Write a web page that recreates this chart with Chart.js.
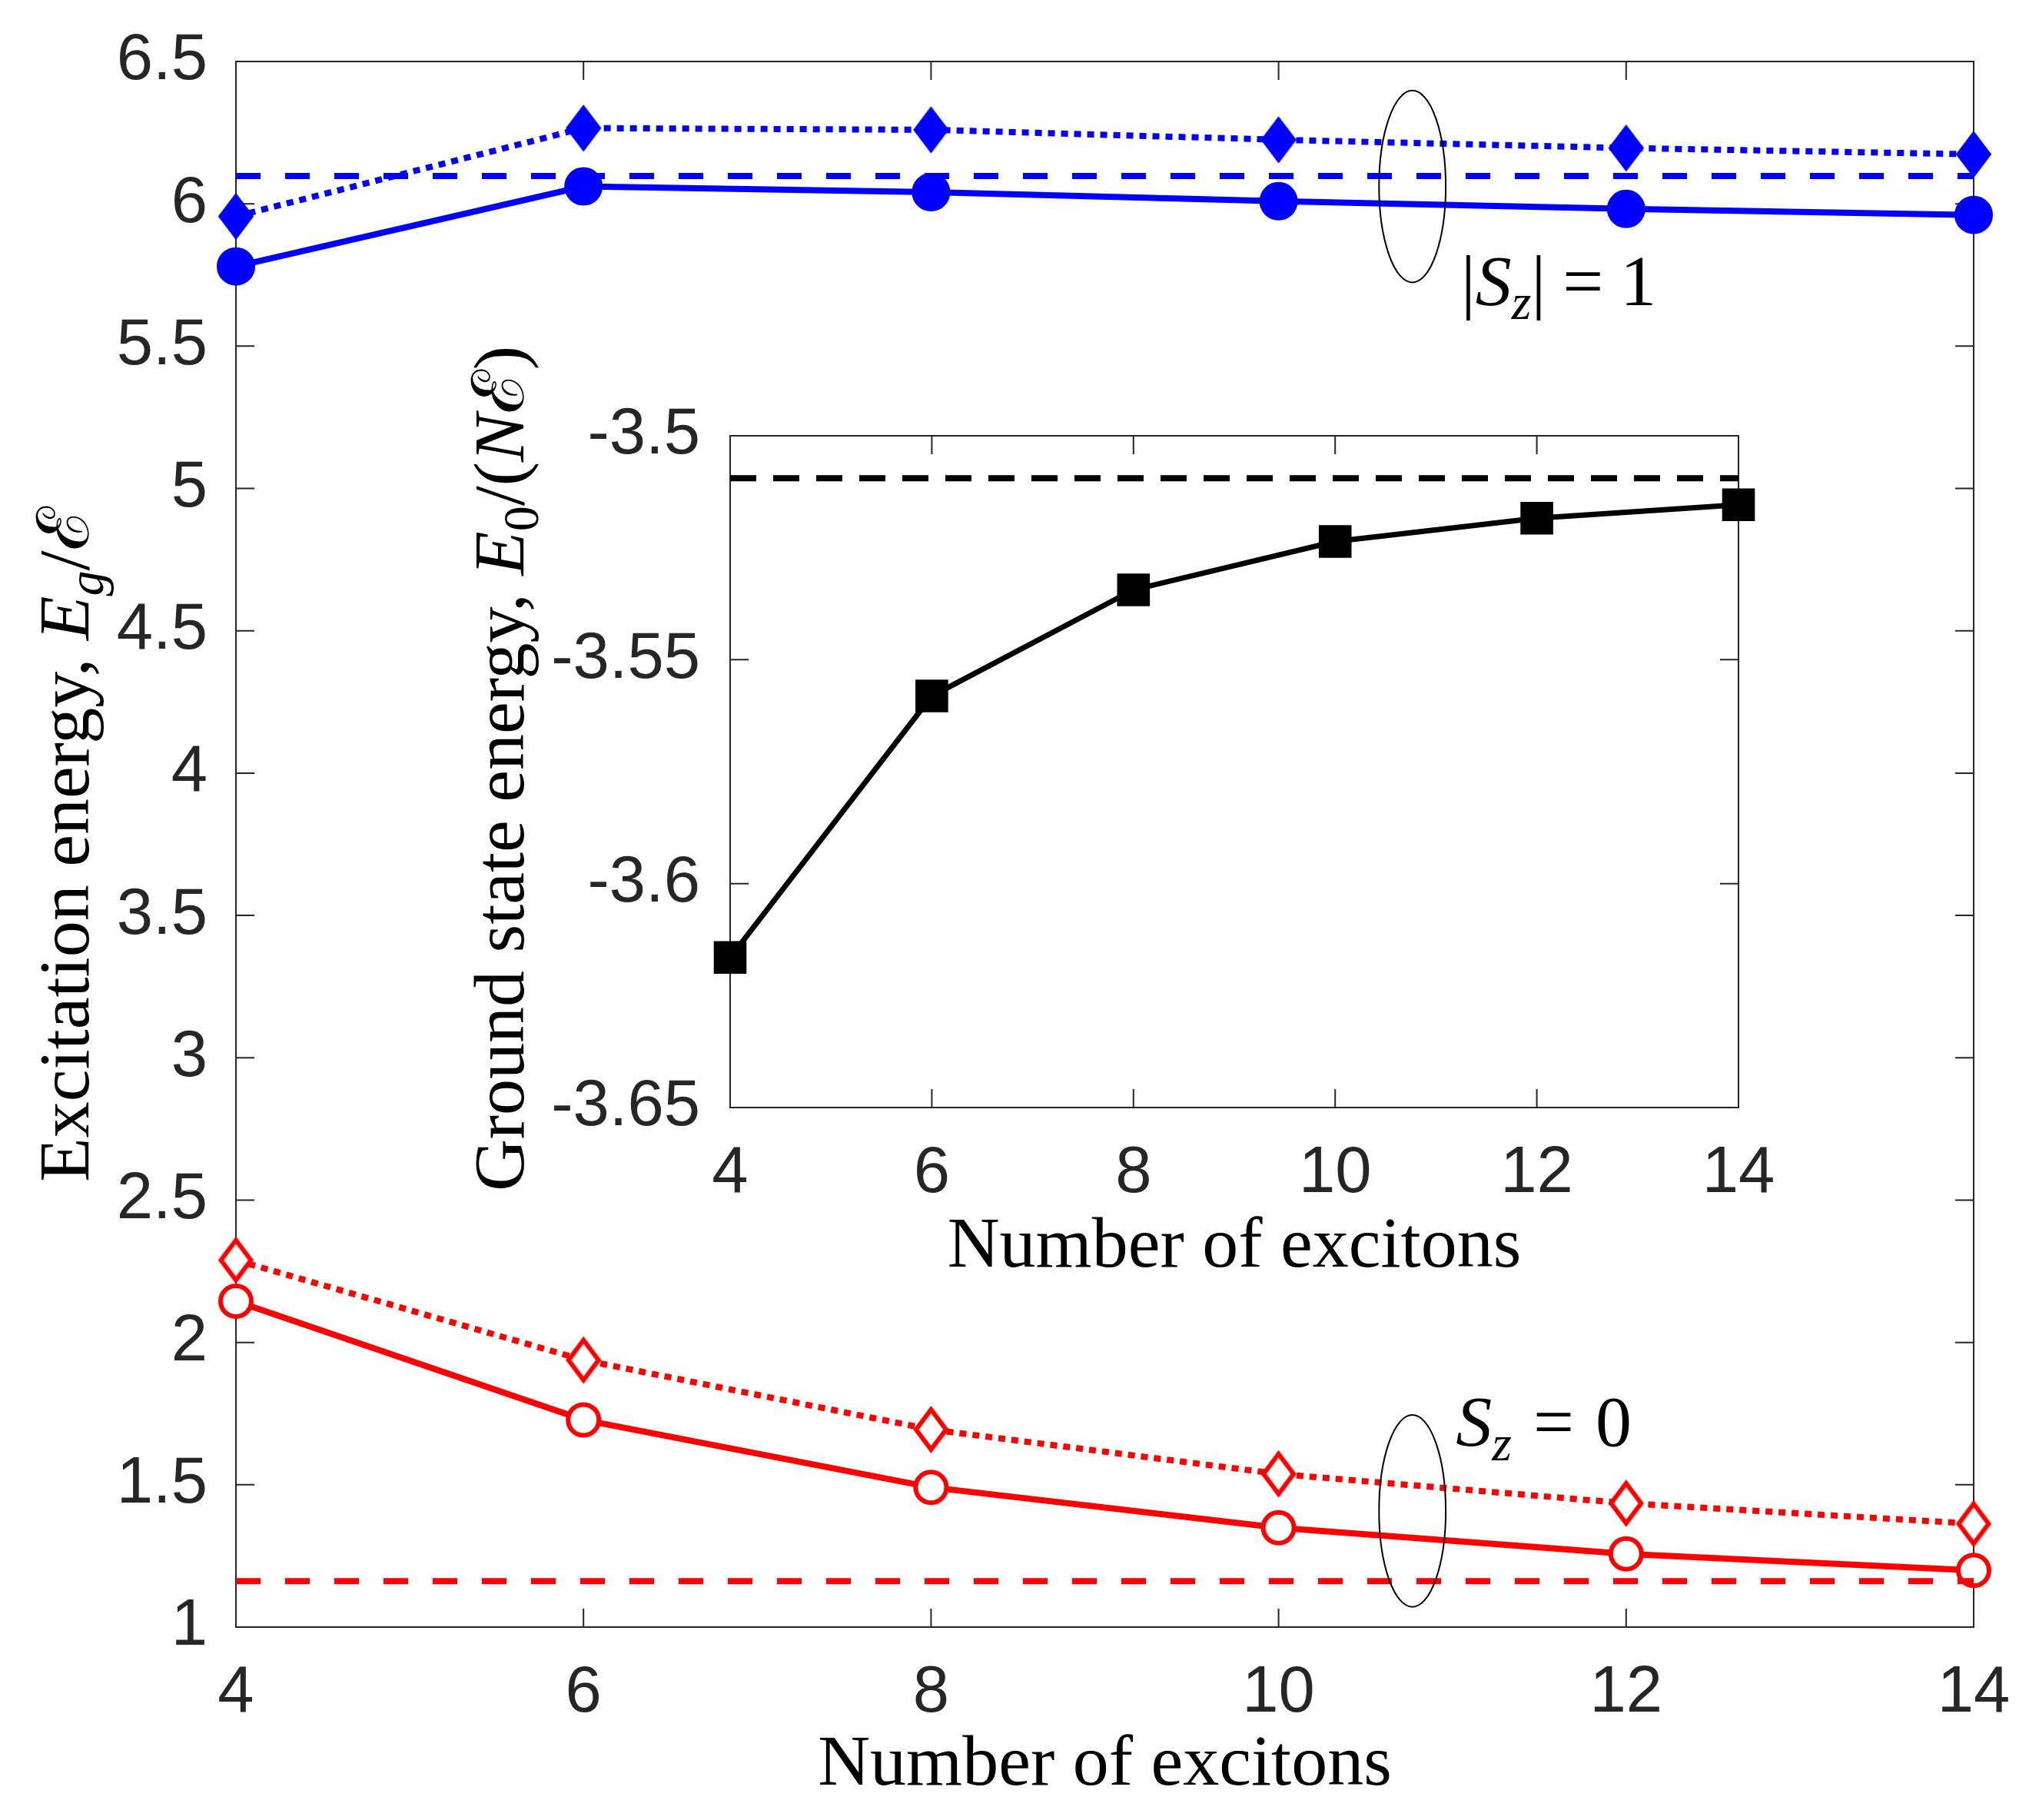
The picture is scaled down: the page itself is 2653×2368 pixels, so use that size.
<!DOCTYPE html>
<html>
<head>
<meta charset="utf-8">
<script src="https://cdn.jsdelivr.net/npm/chart.js@4.4.0/dist/chart.umd.min.js"></script>
<style>
  html, body { margin: 0; padding: 0; background: #fff; }
  #wrap { position: relative; width: 2653px; height: 2368px; }
  canvas { position: absolute; left: 0; top: 0; }
</style>
</head>
<body>
<div id="wrap">
  <canvas id="main" width="2653" height="2368"></canvas>
  <canvas id="inset" width="2653" height="2368"></canvas>
</div>
<script>
// number of excitons
const excitons = [4, 6, 8, 10, 12, 14];

// |Sz| = 1 branch
const blueSolid  = [5.780, 6.061, 6.041, 6.009, 5.982, 5.961];
const blueDotted = [5.956, 6.266, 6.260, 6.225, 6.196, 6.174];
const blueLimit  = 6.098;

// Sz = 0 branch
const redSolid  = [2.145, 1.728, 1.491, 1.349, 1.257, 1.199];
const redDotted = [2.289, 1.938, 1.694, 1.538, 1.435, 1.363];
const redLimit  = 1.161;

// inset: ground state energy
const groundE    = [-3.6165, -3.5581, -3.5344, -3.5236, -3.5184, -3.5154];
const groundLimit = -3.5095;

// ticks
const xTicks      = [4, 6, 8, 10, 12, 14];
const mainYTicks  = [1, 1.5, 2, 2.5, 3, 3.5, 4, 4.5, 5, 5.5, 6, 6.5];
const insetYTicks = [-3.65, -3.6, -3.55, -3.5];

const tickFont = { family: "'Liberation Sans', Arial, sans-serif", size: 85 };
const tickColor = '#262626';
const serif = "'Liberation Serif', 'DejaVu Serif', serif";
const titleSize = 94;

const pts = ys => excitons.map((x, i) => ({ x: x, y: ys[i] }));
const flat = v => [{ x: excitons[0], y: v }, { x: excitons[excitons.length - 1], y: v }];

function diamond(w, h, fill, stroke, lw) {
  const pad = lw * 2;
  const c = document.createElement('canvas');
  c.width = w + 2 * pad; c.height = h + 2 * pad;
  const g = c.getContext('2d');
  const cx = c.width / 2, cy = c.height / 2;
  g.beginPath();
  g.moveTo(cx, cy - h / 2);
  g.lineTo(cx + w / 2, cy);
  g.lineTo(cx, cy + h / 2);
  g.lineTo(cx - w / 2, cy);
  g.closePath();
  g.fillStyle = fill; g.fill();
  g.lineWidth = lw; g.strokeStyle = stroke; g.stroke();
  return c;
}

// rich text: parts {t, it, sub, gap}
function drawRich(ctx, parts, x, y, size, align, rot) {
  ctx.save();
  ctx.translate(x, y);
  if (rot) ctx.rotate(rot);
  const fontOf = p => (p.it ? 'italic ' : '') + Math.round(size * (p.sub ? 0.7 : 1)) + 'px ' + serif;
  let w = 0;
  parts.forEach(p => {
    ctx.font = fontOf(p);
    p.w = ctx.measureText(p.t).width + (p.gap || 0);
    w += p.w;
  });
  let cx = align === 'center' ? -w / 2 : 0;
  ctx.textAlign = 'left';
  ctx.textBaseline = 'alphabetic';
  ctx.fillStyle = '#000';
  parts.forEach(p => {
    ctx.font = fontOf(p);
    ctx.fillText(p.t, cx + (p.gap || 0) / 2, p.sub ? size * 0.2 : 0);
    cx += p.w;
  });
  ctx.restore();
}

// box + inward tick marks
const boxTicks = {
  id: 'boxTicks',
  beforeDatasetsDraw(chart, args, opts) {
    const { ctx, chartArea: a, scales } = chart;
    const len = opts.len;
    ctx.save();
    ctx.strokeStyle = tickColor;
    ctx.lineWidth = 2;
    ctx.strokeRect(a.left, a.top, a.right - a.left, a.bottom - a.top);
    ctx.beginPath();
    scales.x.ticks.forEach(t => {
      const px = scales.x.getPixelForValue(t.value);
      ctx.moveTo(px, a.bottom); ctx.lineTo(px, a.bottom - len);
      ctx.moveTo(px, a.top); ctx.lineTo(px, a.top + len);
    });
    scales.y.ticks.forEach(t => {
      const py = scales.y.getPixelForValue(t.value);
      ctx.moveTo(a.left, py); ctx.lineTo(a.left + len, py);
      ctx.moveTo(a.right, py); ctx.lineTo(a.right - len, py);
    });
    ctx.stroke();
    ctx.restore();
  }
};

const mainNotes = {
  id: 'mainNotes',
  afterDraw(chart) {
    const { ctx, chartArea: a, scales: { x, y } } = chart;
    // ellipses grouping the curves
    ctx.save();
    ctx.strokeStyle = '#000';
    ctx.lineWidth = 2;
    [6.061, 1.408].forEach(cy => {
      const px = x.getPixelForValue(10.77);
      const rx = x.getPixelForValue(10.77 + 0.192) - px;
      const py = y.getPixelForValue(cy);
      const ry = py - y.getPixelForValue(cy + 0.337);
      ctx.beginPath();
      ctx.ellipse(px, py, rx, ry, 0, 0, Math.PI * 2);
      ctx.stroke();
    });
    ctx.restore();

    drawRich(ctx, [
      { t: '|' }, { t: 'S', it: true }, { t: 'z', it: true, sub: true }, { t: '|' },
      { t: '=', gap: 44 }, { t: '1' }
    ], x.getPixelForValue(11.05), y.getPixelForValue(5.645), titleSize, 'left');
    drawRich(ctx, [
      { t: 'S', it: true }, { t: 'z', it: true, sub: true },
      { t: '=', gap: 56 }, { t: '0' }
    ], x.getPixelForValue(11.02), y.getPixelForValue(1.637), titleSize, 'left');

    const midX = (a.left + a.right) / 2, midY = (a.top + a.bottom) / 2;
    drawRich(ctx, [{ t: 'Number of excitons' }], midX, a.bottom + 205, titleSize, 'center');
    drawRich(ctx, [
      { t: 'Excitation energy, ' }, { t: 'E', it: true }, { t: 'g', it: true, sub: true },
      { t: '/' }, { t: '\u2130' }
    ], a.left - 192, midY, titleSize, 'center', -Math.PI / 2);
  }
};

const insetNotes = {
  id: 'insetNotes',
  afterDraw(chart) {
    const { ctx, chartArea: a } = chart;
    const midX = (a.left + a.right) / 2, midY = (a.top + a.bottom) / 2;
    drawRich(ctx, [{ t: 'Number of excitons' }], midX, a.bottom + 207, titleSize, 'center');
    drawRich(ctx, [
      { t: 'Ground state energy, ' }, { t: 'E', it: true }, { t: '0', sub: true },
      { t: '/(' }, { t: 'N', it: true }, { t: '\u2130' }, { t: ')' }
    ], a.left - 269, midY - 4, titleSize, 'center', -Math.PI / 2);
  }
};

const fmt = v => String(Math.round(v * 100) / 100);

function axisX(height, pad) {
  return {
    type: 'linear', min: 4, max: 14,
    afterBuildTicks: s => { s.ticks = xTicks.map(v => ({ value: v })); },
    afterFit: s => { s.height = height; },
    grid: { display: false }, border: { display: false },
    ticks: { padding: pad, font: tickFont, color: tickColor, maxRotation: 0, autoSkip: false, callback: fmt }
  };
}
function axisY(min, max, list, width, pad) {
  return {
    type: 'linear', min: min, max: max,
    afterBuildTicks: s => { s.ticks = list.map(v => ({ value: v })); },
    afterFit: s => { s.width = width; },
    grid: { display: false }, border: { display: false },
    ticks: { padding: pad, font: tickFont, color: tickColor, autoSkip: false, callback: fmt }
  };
}

const blue = '#0000ff', red = '#ff0000';
const common = { tension: 0, clip: false, borderCapStyle: 'butt' };

new Chart(document.getElementById('main'), {
  type: 'line',
  data: {
    datasets: [
      Object.assign({ label: 'blue limit', data: flat(blueLimit), borderColor: blue, borderWidth: 8, borderDash: [32, 32], pointRadius: 0 }, common),
      Object.assign({ label: 'red limit', data: flat(redLimit), borderColor: red, borderWidth: 8, borderDash: [32, 32], pointRadius: 0 }, common),
      Object.assign({ label: '|Sz|=1 dotted', data: pts(blueDotted), borderColor: blue, borderWidth: 8, borderDash: [9, 8],
        pointStyle: diamond(44, 58, blue, blue, 2), pointRadius: 29 }, common),
      Object.assign({ label: '|Sz|=1', data: pts(blueSolid), borderColor: blue, borderWidth: 8,
        pointStyle: 'circle', pointRadius: 24, pointBackgroundColor: blue, pointBorderColor: blue, pointBorderWidth: 2 }, common),
      Object.assign({ label: 'Sz=0 dotted', data: pts(redDotted), borderColor: red, borderWidth: 8, borderDash: [9, 8],
        pointStyle: diamond(39, 52, '#fff', red, 6), pointRadius: 28 }, common),
      Object.assign({ label: 'Sz=0', data: pts(redSolid), borderColor: red, borderWidth: 8,
        pointStyle: 'circle', pointRadius: 20, pointBackgroundColor: '#fff', pointBorderColor: red, pointBorderWidth: 6 }, common)
    ]
  },
  options: {
    responsive: false, animation: false, devicePixelRatio: 1, events: [],
    layout: { padding: { left: 0, top: 79, right: 85, bottom: 0 } },
    plugins: { legend: { display: false }, tooltip: { enabled: false }, boxTicks: { len: 24 } },
    scales: { x: axisX(251, 28), y: axisY(1, 6.5, mainYTicks, 307, 29) }
  },
  plugins: [boxTicks, mainNotes]
});

new Chart(document.getElementById('inset'), {
  type: 'line',
  data: {
    datasets: [
      Object.assign({ label: 'limit', data: flat(groundLimit), borderColor: '#000', borderWidth: 8, borderDash: [34, 22], pointRadius: 0 }, common),
      Object.assign({ label: 'E0', data: pts(groundE), borderColor: '#000', borderWidth: 7,
        pointStyle: 'rect', pointRadius: 28, pointBackgroundColor: '#000', pointBorderColor: '#000', pointBorderWidth: 3 }, common)
    ]
  },
  options: {
    responsive: false, animation: false, devicePixelRatio: 1, events: [],
    layout: { padding: { left: 650, top: 567, right: 391, bottom: 727 } },
    plugins: { legend: { display: false }, tooltip: { enabled: false }, boxTicks: { len: 24 } },
    scales: { x: axisX(200, 28), y: axisY(-3.65, -3.5, insetYTicks, 300, 31) }
  },
  plugins: [boxTicks, insetNotes]
});
</script>
</body>
</html>
